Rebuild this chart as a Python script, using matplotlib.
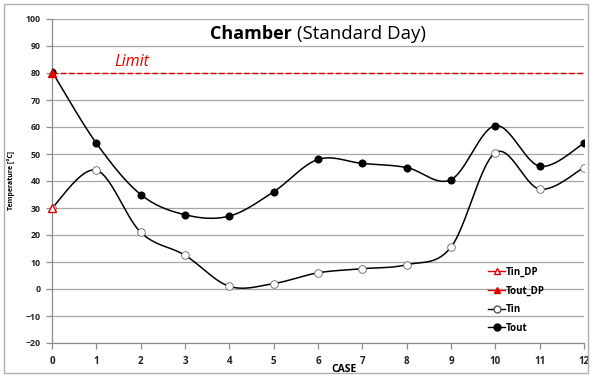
import numpy as np
import matplotlib
matplotlib.use("Agg")
import matplotlib.pyplot as plt
from matplotlib.patches import Rectangle

cases = list(range(13))
tout = [80.5, 54, 35, 27.5, 27, 36, 48, 46.5, 45, 40.5, 60.5, 45.5, 54]
tin = [30, 44, 21, 12.5, 1, 2, 6, 7.5, 9, 15.5, 50.5, 37, 45]
tin_dp_x, tin_dp_y = [0], [30]
tout_dp_x, tout_dp_y = [0], [80]
limit = 80
yticks = list(range(-20, 101, 10))

FONT = "Open Sans"
plt.rcParams['font.family'] = [FONT, 'DejaVu Sans']


def smooth(x, y, n=30):
    x = np.asarray(x, float); y = np.asarray(y, float)
    xs, ys = [], []
    m = len(x)
    for i in range(m - 1):
        p0 = np.array([x[max(i - 1, 0)], y[max(i - 1, 0)]])
        p1 = np.array([x[i], y[i]])
        p2 = np.array([x[i + 1], y[i + 1]])
        p3 = np.array([x[min(i + 2, m - 1)], y[min(i + 2, m - 1)]])
        c1 = p1 + (p2 - p0) / 6.0
        c2 = p2 - (p3 - p1) / 6.0
        t = np.linspace(0, 1, n)[:, None]
        pts = ((1 - t) ** 3) * p1 + 3 * ((1 - t) ** 2) * t * c1 + 3 * (1 - t) * t ** 2 * c2 + t ** 3 * p2
        xs.append(pts[:, 0]); ys.append(pts[:, 1])
    return np.concatenate(xs), np.concatenate(ys)


fig = plt.figure(figsize=(5.91, 3.75), dpi=100)
fig.patches.append(Rectangle((4 / 591, 2 / 375), 584 / 591, 369 / 375, transform=fig.transFigure,
                             fill=False, edgecolor='#b0b0b0', linewidth=1.0))
ax = fig.add_axes([52 / 591, 1 - 343 / 375, 532 / 591, 324 / 375])

ax.set_xlim(0, 12)
ax.set_ylim(-20, 100)
ax.set_yticks(yticks)
ax.set_xticks(cases)
ax.grid(axis='y', color='#a6a6a6', linewidth=0.9)
ax.set_axisbelow(True)
for s in ['top', 'right']:
    ax.spines[s].set_visible(False)
for s in ['left', 'bottom']:
    ax.spines[s].set_color('#8c8c8c')
    ax.spines[s].set_linewidth(0.9)
ax.tick_params(axis='both', colors='#8c8c8c', length=4, width=0.9, labelcolor='#222222')
ax.tick_params(axis='y', labelsize=6.3, pad=4)
ax.tick_params(axis='x', labelsize=7, pad=5)
for lab in ax.get_xticklabels() + ax.get_yticklabels():
    lab.set_fontweight('bold')

ax.axhline(limit, color='#e00000', linestyle=(0, (4, 2)), linewidth=1.0, zorder=2)
ax.text(1.8, 84.0, 'Limit', color='#e00000', fontsize=11.5, fontstyle='italic', va='center', ha='center')

sx, sy = smooth(cases, tin)
ax.plot(sx, sy, color='black', linewidth=1.1, zorder=3)
ax.plot(cases, tin, linestyle='none', marker='o', markersize=5.5, markerfacecolor='white',
        markeredgecolor='#666666', markeredgewidth=0.6, zorder=4)
sx, sy = smooth(cases, tout)
ax.plot(sx, sy, color='black', linewidth=1.1, zorder=3)
ax.plot(cases, tout, linestyle='none', marker='o', markersize=4.8, color='black', zorder=4)

ax.plot(tin_dp_x, tin_dp_y, linestyle='none', marker='^', markersize=6, markerfacecolor='white',
        markeredgecolor='#e00000', markeredgewidth=1.0, zorder=5, clip_on=False)
ax.plot(tout_dp_x, tout_dp_y, linestyle='none', marker='^', markersize=6, color='#e00000', zorder=5, clip_on=False)

# Legend
h1, = ax.plot([], [], color='#e00000', marker='^', markerfacecolor='white', markeredgecolor='#e00000', markersize=5, linewidth=1)
h2, = ax.plot([], [], color='#e00000', marker='^', markersize=5, linewidth=1)
h3, = ax.plot([], [], color='black', marker='o', markerfacecolor='white', markeredgecolor='#555555', markersize=5, linewidth=1)
h4, = ax.plot([], [], color='black', marker='o', markersize=5, linewidth=1)
leg = ax.legend([h1, h2, h3, h4], ['Tin_DP', 'Tout_DP', 'Tin', 'Tout'], loc='upper left',
                bbox_to_anchor=(0.82, 0.236), frameon=False, fontsize=7, handlelength=1.7,
                handletextpad=0.1, labelspacing=0.8, borderaxespad=0, borderpad=0)
for t in leg.get_texts():
    t.set_fontweight('bold')

ax.set_ylabel('Temperature [°C]', fontsize=5, fontweight='bold', labelpad=8)
fig.text(344 / 591, 1 - 369 / 375, 'CASE', fontsize=7.5, fontweight='bold', ha='center', va='center')

fig.text(292 / 591, 1 - 34 / 375, 'Chamber', fontsize=13, fontweight='bold', ha='right', va='center')
fig.text(297 / 591, 1 - 34 / 375, '(Standard Day)', fontsize=13.5, ha='left', va='center')

fig.savefig('out.png', dpi=100)
